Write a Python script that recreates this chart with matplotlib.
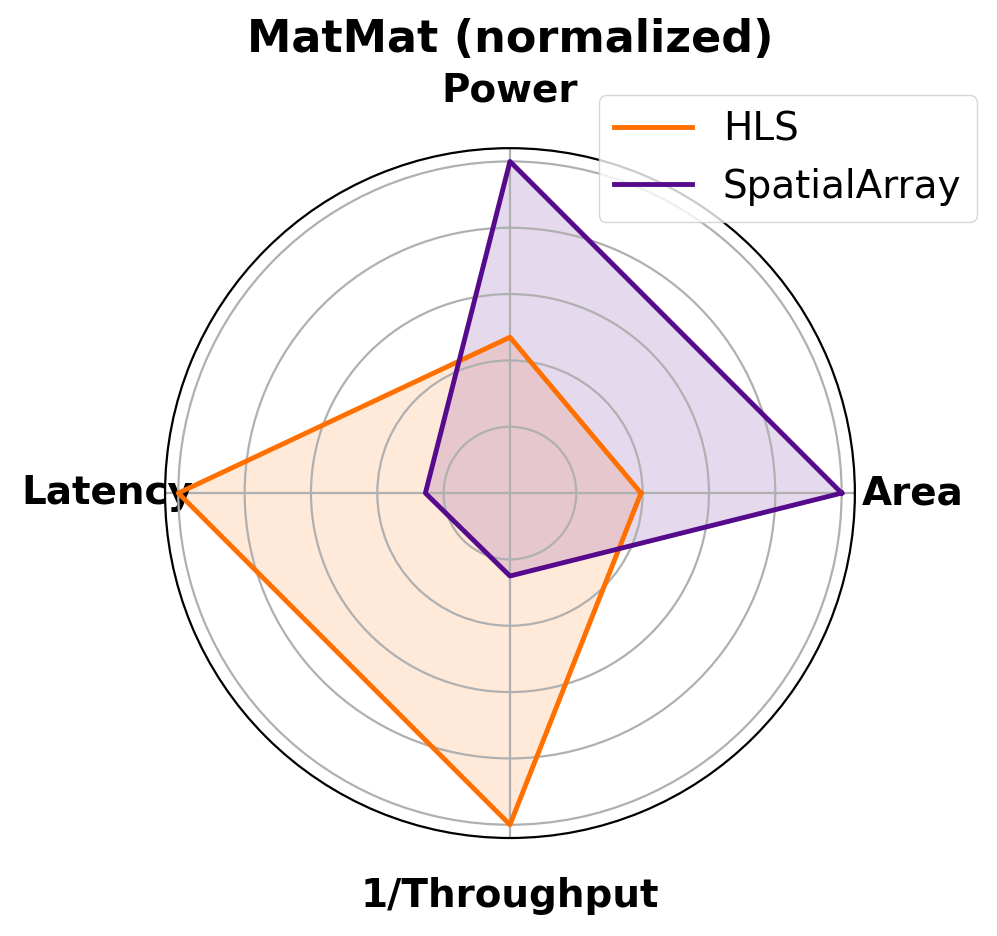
import numpy as np
import matplotlib
matplotlib.use("Agg")
import matplotlib.pyplot as plt

# metrics, normalized to the max per metric
categories = ["Area", "Power", "Latency", "1/Throughput"]
hls = [0.395, 0.47, 1.0, 1.0]
spatial = [1.0, 1.0, 0.255, 0.25]
series = {"HLS": (hls, "#ff7000"), "SpatialArray": (spatial, "#560a8c")}


def main():
    fig = plt.figure(figsize=(9.97, 9.36), dpi=100)
    ax = fig.add_axes([0.1655, 0.1047, 0.692, 0.737], polar=True)

    angles = np.linspace(0, 2 * np.pi, len(categories), endpoint=False).tolist()
    angles += angles[:1]

    for name, (vals, color) in series.items():
        v = vals + vals[:1]
        ax.plot(angles, v, color=color, linewidth=3.5, label=name)
        ax.fill(angles, v, color=color, alpha=0.15)

    ax.set_xticks(angles[:-1])
    ax.set_xticklabels(categories, fontsize=28, fontweight="bold")
    ax.tick_params(axis="x", pad=31)
    ax.set_yticks([0.2, 0.4, 0.6, 0.8, 1.0])
    ax.set_yticklabels([])
    ax.set_ylim(0, 1.04)
    ax.grid(color="#b0b0b0", linewidth=1.6)
    ax.spines["polar"].set_linewidth(1.6)

    fig.text(510 / 997, 1 - 40 / 936, "MatMat (normalized)", ha="center",
             va="center", fontsize=32, fontweight="bold")
    fig.legend(loc="upper right", bbox_to_anchor=(977 / 997, 1 - 95 / 936),
               borderaxespad=0, fontsize=28)

    fig.savefig("out.png", dpi=100)


if __name__ == "__main__":
    main()
